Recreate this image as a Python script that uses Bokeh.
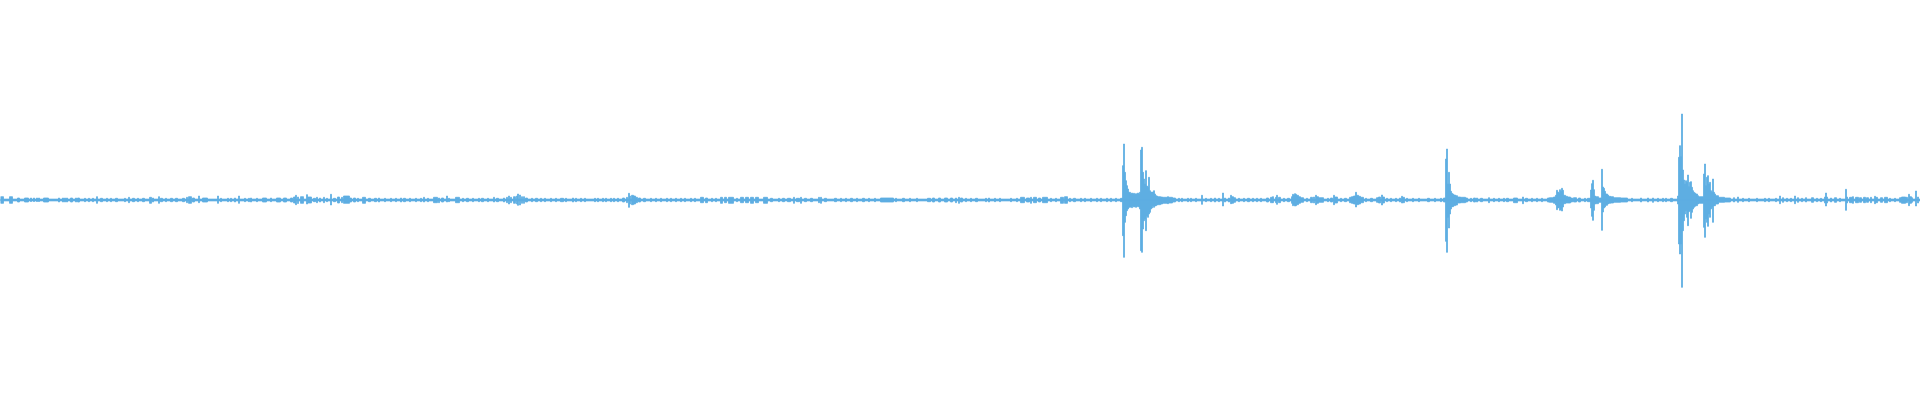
from bokeh.plotting import figure
from bokeh.models import ColumnDataSource, Range1d
from bokeh.embed import file_html
from bokeh.resources import INLINE

# Waveform envelope.
# Each entry: (start block, end block, peak above zero, peak below zero)
noise_floor = [(0, 1920, 0.9, 0.9)]

quiet_start = [
    (0, 3, 3.3, 3.3), (9, 12, 3.3, 3.3), (17, 19, 2, 2), (24, 28, 2, 2), (30, 31, 2, 1.5), (33, 34, 2, 1.5),
    (36, 37, 2, 1.5), (38, 39, 2, 1.5), (43, 48, 2, 2), (58, 59, 2, 2), (62, 63, 2, 2), (64, 65, 2, 2),
    (66, 67, 2, 2), (70, 72, 2, 2), (75, 76, 2, 2), (77, 79, 2, 2), (84, 85, 1.7, 1.7), (88, 89, 1.7, 1.7),
    (92, 93, 1.7, 1.7), (96, 97, 3.3, 3.3), (100, 102, 1.7, 1.7), (106, 107, 1.7, 1.7), (110, 111, 1.7, 1.7),
    (115, 117, 1.7, 1.7), (124, 125, 1.7, 1.7), (128, 129, 2.7, 2.7), (132, 134, 1.7, 1.7), (137, 138, 1.7, 1.7),
    (142, 144, 1.7, 1.7), (149, 151, 2.7, 3.3), (152, 153, 2, 2), (158, 159, 3.3, 3.3), (160, 162, 1.7, 1.7),
    (165, 166, 1.7, 1.7), (170, 172, 1.7, 1.7), (175, 177, 1.7, 1.7), (182, 184, 1.7, 1.7), (186, 187, 2.7, 2.7),
    (188, 191, 3.3, 3.3), (192, 194, 2, 2), (198, 199, 4, 2.7), (202, 207, 2, 2), (217, 218, 4, 3.3),
    (220, 221, 1.7, 1.7), (227, 228, 1.7, 1.7), (230, 231, 1.7, 1.7), (234, 235, 2, 2), (238, 239, 4, 3.3),
    (244, 245, 1.7, 1.7), (248, 249, 1.7, 1.7), (250, 251, 2, 2), (256, 257, 1.7, 1.7), (262, 266, 2, 2),
    (270, 271, 2, 1.7), (276, 280, 2, 2), (283, 286, 2, 2), (290, 292, 2, 2), (293, 295, 3, 3),
    (295, 296, 4.7, 4.7), (297, 298, 3, 3.5), (300, 303, 3.3, 3.3), (306, 307, 5.3, 4), (307, 311, 3, 3),
    (313, 315, 1.7, 1.7), (316, 317, 2.7, 2.7), (319, 320, 2, 2), (323, 324, 2.7, 2.7), (326, 327, 1.7, 1.7),
    (330, 331, 5.7, 5), (333, 335, 1.7, 1.7), (337, 339, 3, 3), (341, 342, 2.7, 2.7), (343, 349, 4, 3.3),
    (349, 351, 2, 2), (353, 355, 2, 2), (357, 358, 1.7, 1.7), (362, 365, 2.7, 3.3), (368, 370, 1.7, 1.7),
    (374, 376, 1.7, 1.7), (378, 379, 2, 2),
]

quiet_middle = [
    (384, 385, 1.7, 1.7), (390, 391, 1.7, 1.7), (395, 396, 1.7, 1.7), (400, 401, 2, 2), (403, 405, 1.7, 1.7),
    (409, 410, 1.7, 1.7), (415, 416, 1.7, 1.7), (420, 421, 1.7, 1.7), (423, 424, 2.7, 2), (427, 428, 1.7, 1.7),
    (433, 437, 2.7, 2.7), (438, 439, 2, 2.7), (441, 443, 2, 2), (446, 447, 4, 2), (448, 449, 1.7, 1.7),
    (455, 459, 2.7, 2.7), (462, 463, 1.7, 1.7), (466, 468, 1.7, 1.7), (472, 473, 1.7, 1.7), (478, 479, 1.7, 1.7),
    (481, 483, 1.7, 1.7), (487, 488, 1.7, 1.7), (493, 494, 2.7, 2), (496, 498, 1.7, 1.7), (503, 504, 2, 2),
    (506, 507, 2.7, 2.7), (508, 509, 4, 4), (510, 511, 2.7, 2.7), (513, 515, 3.3, 3.3), (516, 517, 4, 4),
    (517, 518, 6, 5.3), (519, 520, 5, 5), (521, 522, 3.3, 3.3), (523, 524, 3.3, 3.3), (525, 527, 2, 2),
    (531, 532, 1.7, 1.7), (535, 537, 1.7, 1.7), (540, 541, 1.7, 1.7), (544, 545, 1.7, 1.7), (550, 551, 1.7, 1.7),
    (555, 556, 1.7, 1.7), (560, 563, 1.7, 1.7), (565, 566, 1.7, 1.7), (572, 573, 2, 2), (575, 576, 1.7, 1.7),
    (580, 581, 1.7, 1.7), (584, 585, 1.7, 1.7), (594, 595, 1.7, 1.7), (597, 598, 1.7, 1.7), (602, 603, 1.7, 1.7),
    (605, 606, 1.7, 1.7), (610, 611, 1.7, 1.7), (613, 614, 1.7, 1.7), (617, 618, 1.7, 1.7), (622, 624, 2, 2),
    (626, 627, 2.7, 2.7), (628, 629, 6.7, 7.3), (629, 630, 4, 4), (631, 633, 4.7, 4.7), (633, 635, 4, 4),
    (635, 637, 2.7, 2.7), (638, 640, 2, 2), (643, 645, 1.7, 1.7), (650, 651, 1.7, 1.7), (655, 656, 1.7, 1.7),
    (660, 661, 1.7, 1.7), (666, 667, 1.7, 1.7), (670, 671, 1.7, 1.7), (675, 676, 1.7, 1.7), (680, 681, 1.7, 1.7),
    (684, 685, 1.7, 1.7), (690, 691, 1.7, 1.7), (694, 695, 1.7, 1.7), (700, 703, 2.7, 2.7), (705, 707, 2, 2.7),
    (711, 712, 1.7, 1.7), (715, 716, 1.7, 1.7), (720, 722, 2.7, 3.3), (724, 726, 2.7, 2.7), (728, 733, 2.7, 3.3),
    (736, 737, 1.7, 1.7), (740, 743, 2.7, 2.7), (745, 748, 2.7, 2.7), (750, 753, 2.7, 3.3), (755, 758, 2.7, 2.7),
]

quiet_end = [
    (763, 767, 2.7, 3.3), (770, 772, 1.7, 1.7), (778, 779, 1.7, 1.7), (782, 784, 1.7, 1.7), (787, 790, 1.7, 1.7),
    (793, 794, 2.7, 3.3), (796, 799, 1.7, 1.7), (800, 801, 2.7, 3.3), (804, 806, 1.7, 1.7), (810, 812, 1.7, 1.7),
    (818, 819, 2.7, 2.7), (820, 821, 2.7, 3.3), (824, 826, 1.7, 1.7), (834, 836, 1.7, 1.7), (840, 841, 1.7, 1.7),
    (845, 846, 1.7, 1.7), (850, 852, 1.7, 1.7), (856, 857, 1.7, 1.7), (862, 864, 1.7, 1.7), (868, 869, 1.7, 1.7),
    (874, 875, 1.7, 1.7), (880, 893, 2, 2), (895, 896, 1.7, 1.7), (902, 904, 1.7, 1.7), (909, 910, 1.7, 1.7),
    (916, 917, 1.7, 1.7), (927, 930, 1.7, 1.7), (932, 934, 2, 2), (938, 940, 2, 2), (944, 947, 2, 2),
    (950, 952, 2, 2), (955, 956, 2, 2.7), (958, 959, 2.7, 3.3), (960, 962, 2, 2), (965, 966, 1.7, 1.7),
    (970, 971, 1.7, 1.7), (975, 977, 1.7, 1.7), (985, 986, 1.7, 1.7), (988, 989, 2, 2), (994, 995, 1.7, 1.7),
    (999, 1000, 1.7, 1.7), (1010, 1011, 1.7, 1.7), (1016, 1017, 1.7, 1.7), (1020, 1024, 2.7, 2.7),
    (1026, 1029, 2, 2), (1030, 1031, 2.7, 3.3), (1033, 1036, 2.7, 2.7), (1038, 1040, 2, 2), (1042, 1047, 2.7, 2.7),
    (1050, 1051, 1.7, 1.7), (1055, 1056, 1.7, 1.7), (1060, 1063, 2.7, 3.3), (1064, 1067, 3.3, 3.3),
    (1069, 1070, 1.7, 1.7), (1073, 1075, 1.7, 1.7), (1080, 1081, 1.7, 1.7), (1084, 1085, 1.7, 1.7),
    (1090, 1091, 1.7, 1.7), (1096, 1097, 1.7, 1.7), (1100, 1101, 1.7, 1.7), (1106, 1107, 1.7, 1.7),
    (1110, 1111, 1.7, 1.7), (1115, 1116, 1.7, 1.7), (1120, 1122, 1.7, 1.7),
]

event_1 = [
    (1122, 1123, 34.3, 35.7), (1123, 1124, 56, 57.3), (1124, 1125, 27.7, 22.3), (1125, 1126, 19.3, 15.7),
    (1126, 1127, 14.3, 10.7), (1127, 1128, 11, 9), (1128, 1130, 7.7, 7.3), (1130, 1131, 6, 6.7), (1131, 1132, 7, 7.7),
    (1132, 1133, 6, 6), (1133, 1134, 6.7, 7), (1134, 1135, 5.7, 6.3), (1135, 1136, 6.3, 7.3), (1136, 1137, 6, 6.7),
    (1137, 1138, 7, 6), (1138, 1139, 6, 7), (1139, 1140, 7.7, 9), (1140, 1141, 50, 50.7), (1141, 1142, 52.7, 52.3),
    (1142, 1143, 27.7, 29), (1143, 1144, 21, 20.7), (1144, 1145, 16, 19), (1145, 1146, 29.3, 30.7),
    (1146, 1147, 14, 16), (1147, 1148, 12.7, 17.3), (1148, 1149, 22.7, 14), (1149, 1150, 9.3, 12.3),
    (1150, 1151, 7.7, 9), (1151, 1152, 8, 8), (1152, 1153, 7.7, 5.7), (1153, 1154, 9.3, 7.3), (1154, 1155, 6, 6),
    (1155, 1156, 4.3, 5.7), (1156, 1157, 4, 5), (1157, 1160, 3.3, 4.7), (1160, 1162, 3, 4), (1162, 1167, 2.7, 3.3),
    (1167, 1168, 3.3, 3.7), (1168, 1172, 2.7, 3), (1172, 1175, 2, 2), (1178, 1179, 1.7, 1.7), (1181, 1182, 1.7, 1.7),
]

between_1_2 = [
    (1187, 1188, 1.7, 1.7), (1190, 1191, 1.7, 1.7), (1195, 1196, 1.7, 1.7), (1201, 1202, 4.7, 4.3),
    (1205, 1206, 1.7, 1.7), (1210, 1211, 1.7, 1.7), (1214, 1215, 2, 2), (1218, 1219, 1.7, 1.7), (1222, 1223, 7, 6),
    (1224, 1225, 2, 2), (1228, 1229, 2, 2), (1230, 1231, 4.7, 3.7), (1231, 1233, 3.3, 3.3), (1233, 1235, 2.3, 2.3),
    (1238, 1239, 1.7, 1.7), (1243, 1244, 1.7, 1.7), (1247, 1249, 1.7, 1.7), (1252, 1253, 1.7, 1.7),
    (1256, 1257, 1.7, 1.7), (1260, 1261, 1.7, 1.7), (1266, 1268, 2, 2), (1270, 1272, 2.7, 2.7),
    (1272, 1273, 3.3, 2.7), (1275, 1276, 2.7, 2.7), (1276, 1277, 4.7, 4.3), (1278, 1280, 2.7, 2.7),
    (1283, 1284, 1.7, 1.7), (1287, 1289, 1.7, 1.7), (1291, 1292, 3.3, 3.3), (1292, 1293, 5.7, 5.7),
    (1293, 1294, 4.7, 4.7), (1294, 1295, 6.3, 6), (1295, 1296, 5.7, 5.7), (1296, 1298, 4.7, 4.7),
    (1298, 1300, 3.3, 3.3), (1300, 1303, 2.3, 2.3), (1306, 1307, 1.7, 1.7), (1310, 1312, 2.7, 2.7),
    (1313, 1314, 3, 3), (1315, 1316, 4.7, 4.7), (1316, 1318, 3.3, 3.3), (1318, 1323, 2.3, 2.3),
    (1327, 1328, 1.7, 1.7), (1330, 1332, 2, 2), (1333, 1334, 4.7, 4.7), (1334, 1337, 3, 3), (1340, 1341, 1.7, 1.7),
    (1344, 1346, 1.7, 1.7), (1349, 1351, 2.7, 2.7), (1351, 1353, 3.3, 3.3), (1353, 1355, 4, 4),
    (1355, 1356, 7.7, 7), (1356, 1358, 4.7, 4.7), (1358, 1360, 3.7, 4), (1360, 1363, 2.7, 2.7),
    (1365, 1366, 1.7, 1.7), (1370, 1372, 1.7, 1.7), (1376, 1378, 2.3, 2.3), (1378, 1380, 3, 3), (1381, 1382, 5, 5),
    (1382, 1384, 3, 3), (1386, 1387, 1.7, 1.7), (1390, 1391, 1.7, 1.7), (1395, 1396, 1.7, 1.7), (1399, 1400, 2, 2),
    (1401, 1402, 3.7, 3), (1402, 1404, 2.7, 2.7), (1406, 1407, 1.7, 1.7), (1412, 1413, 1.7, 1.7),
    (1418, 1419, 1.7, 1.7), (1427, 1429, 1.7, 1.7), (1434, 1435, 1.7, 1.7), (1440, 1441, 1.7, 1.7),
]

event_2 = [
    (1443, 1445, 2, 2), (1445, 1446, 41, 41.3), (1446, 1447, 51, 52.3), (1447, 1448, 16, 17.3),
    (1448, 1449, 27.7, 28), (1449, 1450, 16, 14), (1450, 1451, 8.7, 9), (1451, 1452, 6.7, 6.7), (1452, 1453, 6, 6.7),
    (1453, 1455, 5, 5.7), (1455, 1457, 4.3, 5), (1457, 1460, 3, 3), (1460, 1465, 2.7, 2.7), (1465, 1467, 2, 2),
    (1470, 1471, 1.7, 1.7), (1473, 1475, 2, 2), (1476, 1477, 2, 2), (1480, 1482, 1.7, 1.7), (1488, 1489, 2.3, 2.7),
    (1493, 1494, 1.7, 1.7), (1498, 1499, 1.7, 1.7), (1503, 1504, 1.7, 1.7), (1506, 1508, 1.7, 1.7),
    (1513, 1517, 2, 2.7), (1522, 1523, 3, 3.7), (1525, 1527, 1.7, 1.7), (1531, 1532, 1.7, 1.7),
    (1536, 1537, 1.7, 1.7), (1541, 1542, 1.7, 1.7), (1547, 1549, 2, 2), (1549, 1553, 2.3, 2.3),
]

event_3 = [
    (1553, 1555, 3, 3.3), (1555, 1556, 4.7, 5), (1556, 1557, 9.7, 9.7), (1557, 1558, 8, 8), (1558, 1559, 6.7, 7.3),
    (1559, 1560, 10.3, 10.3), (1560, 1561, 8.7, 9.3), (1561, 1562, 11.7, 11), (1562, 1563, 9.7, 7),
    (1563, 1565, 4.7, 3.7), (1565, 1567, 3.7, 3), (1567, 1570, 3, 3), (1570, 1572, 2, 2), (1573, 1576, 2.3, 2),
    (1578, 1580, 2, 2), (1584, 1585, 1.7, 1.7),
]

event_4 = [
    (1587, 1590, 1.7, 1.7), (1590, 1591, 10, 8), (1591, 1592, 16.3, 16.3), (1592, 1593, 19.7, 20.3),
    (1593, 1594, 10.3, 10.3), (1594, 1595, 4, 4), (1595, 1598, 3.3, 3.7), (1598, 1601, 2, 2.3),
    (1601, 1602, 30.7, 30.3), (1602, 1603, 13, 12), (1603, 1604, 11.7, 8), (1604, 1605, 8.7, 7),
    (1605, 1607, 6, 5.3), (1607, 1608, 5, 4), (1608, 1610, 3.7, 3.3), (1610, 1613, 3.3, 3), (1613, 1620, 2.3, 2.3),
    (1620, 1627, 2, 2), (1631, 1632, 1.7, 1.7), (1640, 1641, 2, 2), (1647, 1648, 2, 2), (1652, 1653, 2, 2.3),
    (1657, 1658, 1.7, 1.7), (1662, 1663, 1.7, 1.7), (1665, 1666, 1.7, 1.7), (1670, 1672, 1.7, 1.7),
]

event_5 = [
    (1677, 1678, 4, 4), (1678, 1679, 42.7, 44), (1679, 1680, 54.3, 54), (1680, 1681, 43.3, 44),
    (1681, 1682, 86, 87.3), (1682, 1683, 30, 30.7), (1683, 1684, 20, 20.7), (1684, 1685, 16, 14),
    (1685, 1686, 19.3, 10.7), (1686, 1687, 17.7, 17.3), (1687, 1688, 25, 25.7), (1688, 1689, 13.3, 11.7),
    (1689, 1690, 17.7, 10.7), (1690, 1691, 18.3, 18.3), (1691, 1692, 12.7, 12.3), (1692, 1693, 9.3, 9),
    (1693, 1694, 7.7, 7.3), (1694, 1695, 7, 6.3), (1695, 1697, 6, 5.7), (1697, 1698, 4.3, 4), (1698, 1703, 3.3, 3.3),
    (1703, 1704, 26, 27.3), (1704, 1705, 36, 37.3), (1705, 1706, 14.3, 19), (1706, 1707, 22.7, 22.3),
    (1707, 1708, 24.3, 26.3), (1708, 1709, 16, 14), (1709, 1710, 17.7, 17.3), (1710, 1711, 9.3, 9),
    (1711, 1712, 7.7, 7.3), (1712, 1713, 21, 22.3), (1713, 1714, 7.7, 5.7), (1714, 1715, 6, 5.7),
    (1715, 1718, 4.3, 4), (1718, 1724, 2.7, 2.3), (1724, 1730, 2, 2),
]

tail = [
    (1733, 1734, 2.3, 2), (1737, 1738, 3, 2.3), (1742, 1743, 1.7, 1.7), (1748, 1749, 1.7, 1.7),
    (1756, 1757, 1.7, 1.7), (1764, 1765, 1.7, 1.7), (1768, 1769, 1.7, 1.7), (1775, 1776, 1.7, 1.7),
    (1779, 1780, 4, 3.7), (1782, 1783, 2.3, 2.3), (1786, 1787, 1.7, 1.7), (1790, 1791, 1.7, 1.7),
    (1794, 1795, 4, 3.7), (1797, 1798, 2.3, 2.3), (1801, 1802, 1.7, 1.7), (1805, 1806, 2.3, 2),
    (1811, 1813, 2.3, 2.3), (1816, 1817, 1.7, 1.7), (1820, 1821, 1.7, 1.7), (1824, 1825, 3, 3), (1825, 1826, 7, 6),
    (1826, 1827, 3, 3), (1830, 1831, 2, 2), (1834, 1836, 2.3, 2.3), (1839, 1840, 1.7, 1.7),
    (1845, 1846, 10.7, 10.3), (1846, 1847, 3, 3), (1849, 1852, 2.7, 2.7), (1852, 1853, 3.3, 3.3),
    (1855, 1858, 2.7, 2.7), (1859, 1861, 2.3, 2.3), (1863, 1865, 2.7, 2.7), (1866, 1868, 2.3, 2.3),
    (1870, 1871, 2.7, 2.7), (1874, 1875, 3.7, 3.7), (1875, 1877, 2.7, 2.7), (1880, 1882, 2.3, 2.3),
    (1884, 1887, 2.7, 2.7), (1889, 1890, 1.7, 1.7), (1894, 1895, 1.7, 1.7), (1899, 1901, 2.3, 2.3),
    (1901, 1905, 3, 3.3), (1905, 1907, 2.7, 2.7), (1908, 1909, 5.7, 5.7), (1909, 1911, 3.3, 3.3),
    (1911, 1912, 2.3, 2.3), (1915, 1916, 9, 6), (1917, 1918, 3, 3),
]

WAVE_COLOR = "#5DADE2"

rows = (noise_floor + quiet_start + quiet_middle + quiet_end + event_1 + between_1_2
        + event_2 + event_3 + event_4 + event_5 + tail)

source = ColumnDataSource(dict(
    left=[r[0] for r in rows],
    right=[r[1] for r in rows],
    top=[r[2] for r in rows],
    bottom=[-r[3] for r in rows],
))

p = figure(width=1920, height=400, output_backend="svg", toolbar_location=None,
           x_range=Range1d(0, 1920), y_range=Range1d(-200.5, 199.5),
           min_border=0, min_border_left=0, min_border_right=0,
           min_border_top=0, min_border_bottom=0)
p.quad(left="left", right="right", top="top", bottom="bottom", source=source,
       fill_color=WAVE_COLOR, line_color=WAVE_COLOR, line_width=0.8)

p.axis.visible = False
p.xgrid.visible = False
p.ygrid.visible = False
p.outline_line_color = None
p.background_fill_color = "white"
p.border_fill_color = "white"

open("out.html", "w").write(file_html(p, INLINE))
